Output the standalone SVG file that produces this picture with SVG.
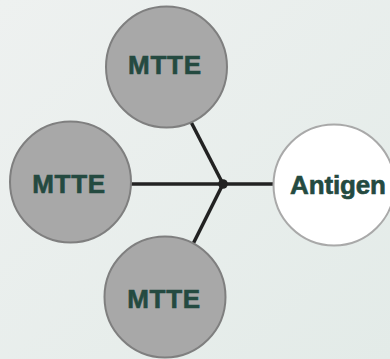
<svg xmlns="http://www.w3.org/2000/svg" width="390" height="359" viewBox="0 0 390 359">
  <defs>
    <linearGradient id="bg" x1="0" y1="0" x2="1" y2="1">
      <stop offset="0" stop-color="#eef1f0"/>
      <stop offset="1" stop-color="#e3ebe8"/>
    </linearGradient>
    <style>
      .mtte { fill: #a8a8a8; stroke: #7f7f7f; stroke-width: 2; }
      .antigen { fill: #ffffff; stroke: #a9a9a9; stroke-width: 2; }
      .label { font-family: "Liberation Sans", Arial, sans-serif; font-weight: bold; font-size: 26px; fill: #244a40; stroke: #244a40; stroke-width: 0.6; text-anchor: middle; }
      .link { stroke: #222222; stroke-width: 3.5; fill: none; stroke-linecap: butt; }
    </style>
  </defs>

  <rect width="390" height="359" fill="url(#bg)"/>

  <!-- connectors meeting at the hub -->
  <g id="connectors">
    <line class="link" x1="223" y1="184" x2="190" y2="120"/>
    <line class="link" x1="223" y1="184" x2="128" y2="184"/>
    <line class="link" x1="223" y1="184" x2="192" y2="246"/>
    <line class="link" x1="223" y1="184" x2="276" y2="184"/>
    <circle cx="223" cy="184" r="4.8" fill="#222222"/>
  </g>

  <g id="mtte-top">
    <circle class="mtte" cx="166.5" cy="67" r="60.5"/>
    <text class="label" x="164.5" y="74" textLength="73" lengthAdjust="spacing">MTTE</text>
  </g>

  <g id="mtte-left">
    <circle class="mtte" cx="70.5" cy="182" r="60.5"/>
    <text class="label" x="68.7" y="193" textLength="73" lengthAdjust="spacing">MTTE</text>
  </g>

  <g id="mtte-bottom">
    <circle class="mtte" cx="165" cy="297" r="60.5"/>
    <text class="label" x="163.7" y="308" textLength="73" lengthAdjust="spacing">MTTE</text>
  </g>

  <g id="antigen">
    <circle class="antigen" cx="334" cy="185" r="60.5"/>
    <text class="label" x="338" y="194" textLength="96" lengthAdjust="spacing">Antigen</text>
  </g>
</svg>
